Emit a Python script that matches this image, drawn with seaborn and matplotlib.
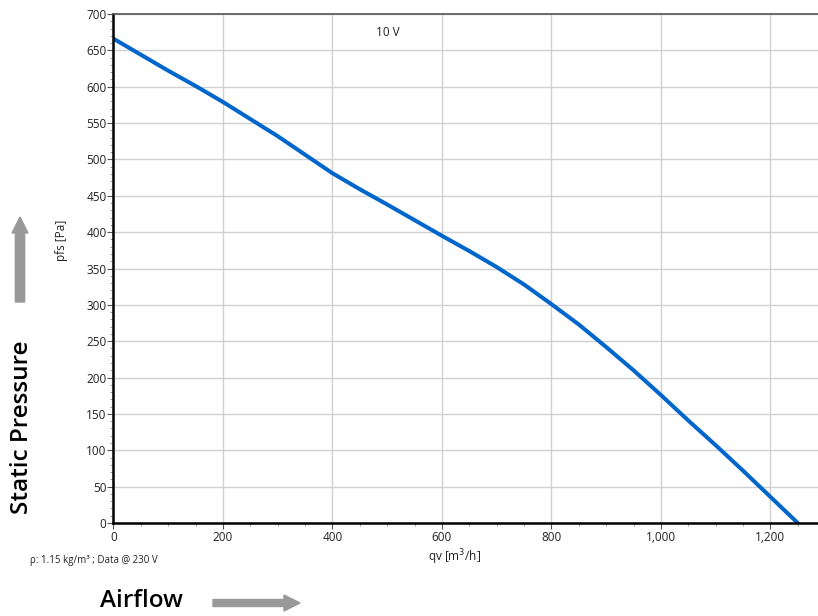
import matplotlib.pyplot as plt
import seaborn as sns
import pandas as pd
from matplotlib.ticker import MultipleLocator, FuncFormatter
from matplotlib.patches import FancyArrow


# Data

airflow = [0, 50, 100, 150, 200, 300, 400, 450, 500, 600, 650, 700, 750, 800,
           850, 900, 950, 1000, 1050, 1100, 1150, 1200, 1250]
pressure = [666, 644, 622, 601, 579, 532, 481, 459, 438, 395, 374, 352, 328, 301,
            273, 242, 210, 176, 141, 107, 72, 36, 0]

x_ticks = [0, 200, 400, 600, 800, 1000, 1200]
y_ticks = [0, 50, 100, 150, 200, 250, 300, 350, 400, 450, 500, 550, 600, 650, 700]

curve_label = "10 V"
x_label = "qv [m$^3$/h]"
y_label = "pfs [Pa]"
note = "ρ: 1.15 kg/m³ ; Data @ 230 V"

df = pd.DataFrame({"qv": airflow, "pfs": pressure})


sns.set_style("whitegrid")
plt.rcParams['font.family'] = ['Open Sans', 'DejaVu Sans']

fig = plt.figure(figsize=(8.18, 6.16), dpi=100)
ax = fig.add_axes([113.5 / 818, 1 - 523 / 616, 1 - 113.5 / 818, (523 - 14) / 616])

sns.lineplot(data=df, x="qv", y="pfs", ax=ax, color="#0066cc", linewidth=2.9)

ax.set_xlim(0, 1287)
ax.set_ylim(0, 700)
ax.set_xticks(x_ticks)
ax.set_yticks(y_ticks)
ax.xaxis.set_minor_locator(MultipleLocator(50))
ax.yaxis.set_minor_locator(MultipleLocator(10))
ax.xaxis.set_major_formatter(FuncFormatter(lambda v, p: f"{int(v):,}"))
ax.tick_params(axis="both", which="major", labelsize=8.5, length=4, width=0.8,
               color="#555555", labelcolor="#222222", direction="out")
ax.tick_params(axis="both", which="minor", length=2, width=0.6, color="#888888")
ax.tick_params(axis="x", which="both", bottom=True, pad=2)
ax.tick_params(axis="y", which="both", left=True, pad=1)

ax.grid(True, which="major", color="#d0d0d0", linewidth=1)
ax.set_xlabel("")
ax.set_ylabel("")

for side in ["left", "bottom"]:
    ax.spines[side].set_color("black")
    ax.spines[side].set_linewidth(1.8)
ax.spines["top"].set_color("#555555")
ax.spines["top"].set_linewidth(1.2)
ax.spines["right"].set_visible(False)

ax.text(501, 674, curve_label, fontsize=8.5, color="#222222", ha="center", va="center")


# Labels and decorations outside the axes

fig.text(455 / 818, 1 - 557 / 616, x_label, fontsize=8.5, color="#222222",
         ha="center", va="center")
fig.text(62 / 818, 1 - 240 / 616, y_label, fontsize=8.5, color="#222222",
         ha="center", va="center", rotation=90)
fig.text(30 / 818, 1 - 560 / 616, note, fontsize=7, color="#222222",
         ha="left", va="center")

fig.text(22 / 818, 1 - 427 / 616, "Static Pressure", fontsize=17.5, color="black",
         fontweight="semibold", ha="center", va="center", rotation=90)
fig.text(100 / 818, 1 - 601 / 616, "Airflow", fontsize=17.5, color="black",
         fontweight="semibold", ha="left", va="center")

fig.add_artist(FancyArrow(20 / 818, 1 - 302 / 616, 0, 85 / 616,
                          width=7 / 616, head_width=16 / 818, head_length=16 / 616,
                          length_includes_head=True, color="#999999",
                          transform=fig.transFigure))
fig.add_artist(FancyArrow(213 / 818, 1 - 603 / 616, 87 / 818, 0,
                          width=7 / 616, head_width=16 / 616, head_length=16 / 818,
                          length_includes_head=True, color="#999999",
                          transform=fig.transFigure))

plt.savefig("out.png", dpi=100)
